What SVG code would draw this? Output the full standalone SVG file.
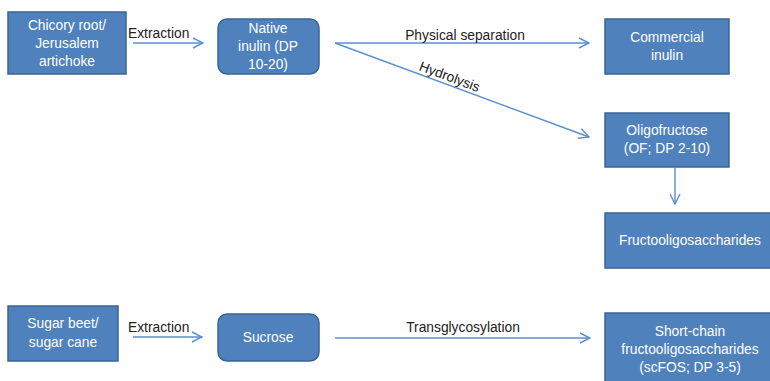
<svg xmlns="http://www.w3.org/2000/svg" width="770" height="381" viewBox="0 0 770 381">
<style>
.box{fill:#4F81BD;stroke:#3A6496;stroke-width:1.5}
.bt{font-family:"Liberation Sans",Arial,sans-serif;font-size:13.8px;fill:#fff;text-anchor:middle}
.lt{font-family:"Liberation Sans",Arial,sans-serif;font-size:13.8px;fill:#222}
.ln{stroke:#5B8FD0;stroke-width:1.4;fill:none}
</style>
<defs>
<marker id="ah" viewBox="0 0 12 12" refX="11" refY="6" markerWidth="12" markerHeight="12" markerUnits="userSpaceOnUse" orient="auto">
<path d="M1,1 L11,6 L1,11" fill="none" stroke="#5B8FD0" stroke-width="1.4"/>
</marker>
</defs>
<rect width="770" height="381" fill="#fff"/>
<g id="chicory"><rect class="box" x="8" y="12" width="118" height="62"/>
<text class="bt" x="67" y="30">Chicory root/</text><text class="bt" x="67" y="48">Jerusalem</text><text class="bt" x="67" y="66">artichoke</text></g>
<g id="native"><rect class="box" x="218" y="19" width="101" height="55" rx="9"/>
<text class="bt" x="268" y="33">Native</text><text class="bt" x="268" y="51">inulin (DP</text><text class="bt" x="268" y="69">10-20)</text></g>
<g id="commercial"><rect class="box" x="605" y="19" width="124" height="55"/>
<text class="bt" x="667" y="42">Commercial</text><text class="bt" x="667" y="60">inulin</text></g>
<g id="oligo"><rect class="box" x="605" y="113" width="124" height="54"/>
<text class="bt" x="667" y="135">Oligofructose</text><text class="bt" x="667" y="153">(OF; DP 2-10)</text></g>
<g id="fos"><rect class="box" x="605" y="213" width="166" height="55"/>
<text class="bt" x="690" y="245">Fructooligosaccharides</text></g>
<g id="sugarbeet"><rect class="box" x="8" y="306" width="110" height="55"/>
<text class="bt" x="63" y="328">Sugar beet/</text><text class="bt" x="63" y="347">sugar cane</text></g>
<g id="sucrose"><rect class="box" x="218" y="314" width="101" height="47" rx="9"/>
<text class="bt" x="268" y="342">Sucrose</text></g>
<g id="scfos"><rect class="box" x="605" y="313" width="166" height="72"/>
<text class="bt" x="690" y="336">Short-chain</text><text class="bt" x="690" y="354">fructooligosaccharides</text><text class="bt" x="690" y="372">(scFOS; DP 3-5)</text></g>
<g id="connectors">
<line class="ln" x1="133" y1="43" x2="203" y2="43" marker-end="url(#ah)"/>
<line class="ln" x1="335" y1="43" x2="589" y2="43" marker-end="url(#ah)"/>
<line class="ln" x1="335" y1="43" x2="589" y2="137" marker-end="url(#ah)"/>
<line class="ln" x1="675" y1="167" x2="675" y2="204" marker-end="url(#ah)"/>
<line class="ln" x1="133" y1="337" x2="202" y2="337" marker-end="url(#ah)"/>
<line class="ln" x1="335" y1="338" x2="590" y2="338" marker-end="url(#ah)"/>
<text class="lt" x="128" y="38">Extraction</text>
<text class="lt" x="465" y="40" text-anchor="middle">Physical separation</text>
<text class="lt" x="448" y="81" text-anchor="middle" transform="rotate(20.3 448 81)">Hydrolysis</text>
<text class="lt" x="128" y="332">Extraction</text>
<text class="lt" x="463" y="332" text-anchor="middle">Transglycosylation</text>
</g>
</svg>
